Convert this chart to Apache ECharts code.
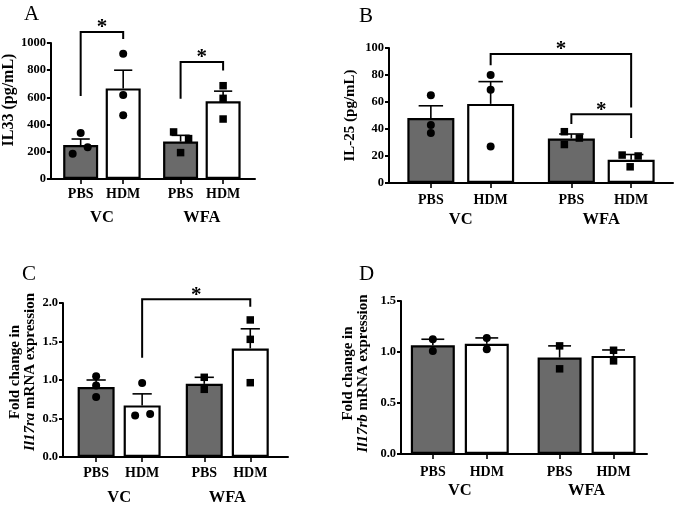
<!DOCTYPE html>
<html>
<head>
<meta charset="utf-8">
<script src="https://cdn.jsdelivr.net/npm/echarts@6/dist/echarts.min.js"></script>
<style>
html, body { margin: 0; padding: 0; background: #fff; }
#main { width: 680px; height: 507px; }
</style>
</head>
<body>
<div id="main"></div>
<script>
// 处理组与分组
var treatments = ['PBS', 'HDM', 'PBS', 'HDM'];
var groups = ['VC', 'WFA'];

// A: IL33 (pg/mL)
var il33Mean = [250, 666, 275, 572];
var il33Sem = [44, 134, 46, 74];
var il33Points = [[338, 186, 233], [921, 618, 468], [346, 297, 194], [686, 593, 441]];
// [起始柱, 结束柱, 横线高度, 左脚末端, 右脚末端]
var il33Sig = [[0, 1, 1081, 610, 1029], [2, 3, 860, 590, 797]];

// B: IL-25 (pg/mL)
var il25Mean = [48.2, 58.6, 33, 17.2];
var il25Sem = [9, 16.5, 3.3, 3.9];
var il25Points = [[65, 43, 37], [80, 69, 27], [38, 28.5, 33.3], [20.7, 20, 12]];
var il25Sig = [[1, 3, 95.5, 87.3, 56], [2, 3, 51, 43.7, 33.3]];

// C: Il17ra 倍数变化
var il17raMean = [0.91, 0.67, 0.95, 1.41];
var il17raSem = [0.09, 0.15, 0.085, 0.255];
var il17raPoints = [[1.048, 0.93, 0.78], [0.96, 0.54, 0.56], [1.035, 0.879], [1.78, 1.528, 0.965]];
var il17raSig = [[1, 3, 2.05, 1.29, 1.95]];

// D: Il17rb 倍数变化
var il17rbMean = [1.065, 1.08, 0.945, 0.962];
var il17rbSem = [0.06, 0.058, 0.115, 0.058];
var il17rbPoints = [[1.125, 1.01], [1.138, 1.027], [1.06, 0.835], [1.017, 0.913]];
var il17rbSig = [];

// 版式：柱子在x轴上的位置、点的水平抖动(px)
var xPos = [1, 2, 3.35, 4.35];
var groupX = [1.5, 3.85];
var FONT = 'Liberation Serif';

var panels = [
    { letter: 'A', mean: il33Mean, sem: il33Sem, pts: il33Points, sig: il33Sig,
      jitter: [[0, -8, 7], [0, 0, 0], [-7, 8, 0], [0, 0, 0]],
      grid: { left: 48, top: 43, width: 207, height: 136 }, xMin: 0.3, xMax: 5.1,
      yMax: 1000, yInt: 200, digits: 0, barW: 35, lab1: 8, lab2: 30,
      name: 'IL33 (pg/mL)', nameSize: 16, nameGap: 31, namePad: [0, 0, 0, 22],
      title: { left: 24, top: 4 } },
    { letter: 'B', mean: il25Mean, sem: il25Sem, pts: il25Points, sig: il25Sig,
      jitter: [[0, 0, 0], [0, 0, 0], [-7, -7, 8], [-9, 7, -1]],
      grid: { left: 389, top: 48, width: 284, height: 135 }, xMin: 0.3, xMax: 5.05,
      yMax: 100, yInt: 20, digits: 0, barW: 47, lab1: 10, lab2: 28,
      name: 'IL-25 (pg/mL)', nameSize: 15, nameGap: 31, namePad: [0, 0, 0, 0],
      title: { left: 359, top: 6 } },
    { letter: 'C', mean: il17raMean, sem: il17raSem, pts: il17raPoints, sig: il17raSig,
      jitter: [[0, 0, 0], [0, -7, 8], [0, 0], [0, 0, 0]],
      grid: { left: 63, top: 303, width: 225, height: 154 }, xMin: 0.28, xMax: 5.17,
      yMax: 2, yInt: 0.5, digits: 1, barW: 37, lab1: 9, lab2: 32,
      name: 'Fold change in\n{i|Il17ra} mRNA expression', nameSize: 15, nameGap: 25, namePad: [0, 0, 0, 16],
      title: { left: 22, top: 264 } },
    { letter: 'D', mean: il17rbMean, sem: il17rbSem, pts: il17rbPoints, sig: il17rbSig,
      jitter: [[0, 0], [0, 0], [0, 0], [0, 0]],
      grid: { left: 401, top: 301, width: 246, height: 153 }, xMin: 0.41, xMax: 4.97,
      yMax: 1.5, yInt: 0.5, digits: 1, barW: 44, lab1: 11, lab2: 28,
      name: 'Fold change in\n{i|Il17rb} mRNA expression', nameSize: 15, nameGap: 30, namePad: [0, 0, 0, 8],
      title: { left: 359, top: 264 } }
];

function nearestIdx(arr, v) {
    var best = 0;
    for (var k = 1; k < arr.length; k++) {
        if (Math.abs(arr[k] - v) < Math.abs(arr[best] - v)) best = k;
    }
    return best;
}

function errRender(capW) {
    return function (params, api) {
        var x = api.value(0), m = api.value(1), s = api.value(2);
        var p0 = api.coord([x, m]);
        var p1 = api.coord([x, m + s]);
        var st = { stroke: '#000', lineWidth: 1.6 };
        return {
            type: 'group',
            children: [
                { type: 'line', shape: { x1: p0[0], y1: p0[1], x2: p1[0], y2: p1[1] }, style: st },
                { type: 'line', shape: { x1: p1[0] - capW / 2, y1: p1[1], x2: p1[0] + capW / 2, y2: p1[1] }, style: st }
            ]
        };
    };
}

function sigRender(params, api) {
    var a = api.coord([api.value(0), api.value(3)]);
    var b = api.coord([api.value(0), api.value(2)]);
    var c = api.coord([api.value(1), api.value(2)]);
    var d = api.coord([api.value(1), api.value(4)]);
    return {
        type: 'group',
        children: [
            { type: 'polyline', shape: { points: [a, b, c, d] },
              style: { stroke: '#000', lineWidth: 2, fill: null } },
            { type: 'text', x: (b[0] + c[0]) / 2, y: b[1] - 4,
              style: { text: '*', fill: '#000', fontSize: 21, fontWeight: 'bold', fontFamily: FONT,
                       align: 'center', verticalAlign: 'middle' } }
        ]
    };
}

var option = {
    backgroundColor: '#fff',
    animation: false,
    title: [], grid: [], xAxis: [], yAxis: [], series: []
};

panels.forEach(function (p, i) {
    option.title.push({
        text: p.letter, left: p.title.left, top: p.title.top, padding: 0,
        textStyle: { fontFamily: FONT, fontWeight: 'normal', fontSize: 21, color: '#000' }
    });
    option.grid.push(p.grid);

    var axisLineStyle = { color: '#000', width: 2 };
    // 第一行：PBS / HDM
    option.xAxis.push({
        gridIndex: i, type: 'value', min: p.xMin, max: p.xMax,
        axisLine: { show: true, onZero: false, lineStyle: axisLineStyle },
        axisTick: { show: true, customValues: xPos, length: 5, lineStyle: { color: '#000', width: 1.6 } },
        axisLabel: { customValues: xPos, margin: p.lab1, color: '#000', fontFamily: FONT,
                     fontWeight: 'bold', fontSize: 14,
                     formatter: function (v) { return treatments[nearestIdx(xPos, v)]; } },
        splitLine: { show: false }
    });
    // 第二行：VC / WFA
    option.xAxis.push({
        gridIndex: i, type: 'value', min: p.xMin, max: p.xMax, position: 'bottom',
        axisLine: { show: false }, axisTick: { show: false },
        axisLabel: { customValues: groupX, margin: p.lab2, color: '#000', fontFamily: FONT,
                     fontWeight: 'bold', fontSize: 16.5,
                     formatter: function (v) { return groups[nearestIdx(groupX, v)]; } },
        splitLine: { show: false }
    });
    option.yAxis.push({
        gridIndex: i, type: 'value', min: 0, max: p.yMax, interval: p.yInt,
        axisLine: { show: true, lineStyle: axisLineStyle },
        axisTick: { show: true, length: 4, lineStyle: { color: '#000', width: 2 } },
        axisLabel: { margin: 5, color: '#000', fontFamily: FONT, fontWeight: 'bold', fontSize: 12.5,
                     formatter: function (v) { return v.toFixed(p.digits); } },
        splitLine: { show: false },
        name: p.name, nameLocation: 'middle', nameGap: p.nameGap, nameRotate: 90,
        nameTextStyle: {
            color: '#000', fontFamily: FONT, fontWeight: 'bold', fontSize: p.nameSize, lineHeight: 15,
            padding: p.namePad,
            rich: { i: { fontFamily: FONT, fontWeight: 'bold', fontStyle: 'italic', fontSize: p.nameSize, lineHeight: 15, color: '#000' } }
        }
    });

    var xi = i * 2;
    option.series.push({
        type: 'bar', xAxisIndex: xi, yAxisIndex: i, barWidth: p.barW, z: 2,
        itemStyle: { borderColor: '#000', borderWidth: 2.2 },
        data: p.mean.map(function (m, j) {
            return { value: [xPos[j], m], itemStyle: { color: j % 2 ? '#ffffff' : '#6a6a6a' } };
        })
    });
    option.series.push({
        type: 'custom', xAxisIndex: xi, yAxisIndex: i, z: 3, clip: false,
        renderItem: errRender(p.barW * 0.52),
        encode: { x: 0, y: [1, 2] },
        data: p.mean.map(function (m, j) { return [xPos[j], m, p.sem[j]]; })
    });
    var pts = [];
    p.pts.forEach(function (arr, j) {
        arr.forEach(function (v, k) {
            pts.push({
                value: [xPos[j], v],
                symbol: j < 2 ? 'circle' : 'rect',
                symbolSize: j < 2 ? 8 : 7.5,
                symbolOffset: [p.jitter[j][k], 0]
            });
        });
    });
    option.series.push({
        type: 'scatter', xAxisIndex: xi, yAxisIndex: i, z: 4,
        itemStyle: { color: '#000', opacity: 1 },
        data: pts
    });
    if (p.sig.length) {
        option.series.push({
            type: 'custom', xAxisIndex: xi, yAxisIndex: i, z: 5, clip: false,
            renderItem: sigRender,
            encode: { x: [0, 1], y: [2, 3, 4] },
            data: p.sig.map(function (s) { return [xPos[s[0]], xPos[s[1]], s[2], s[3], s[4]]; })
        });
    }
});

var myChart = echarts.init(document.getElementById('main'));
myChart.setOption(option);
</script>
</body>
</html>
